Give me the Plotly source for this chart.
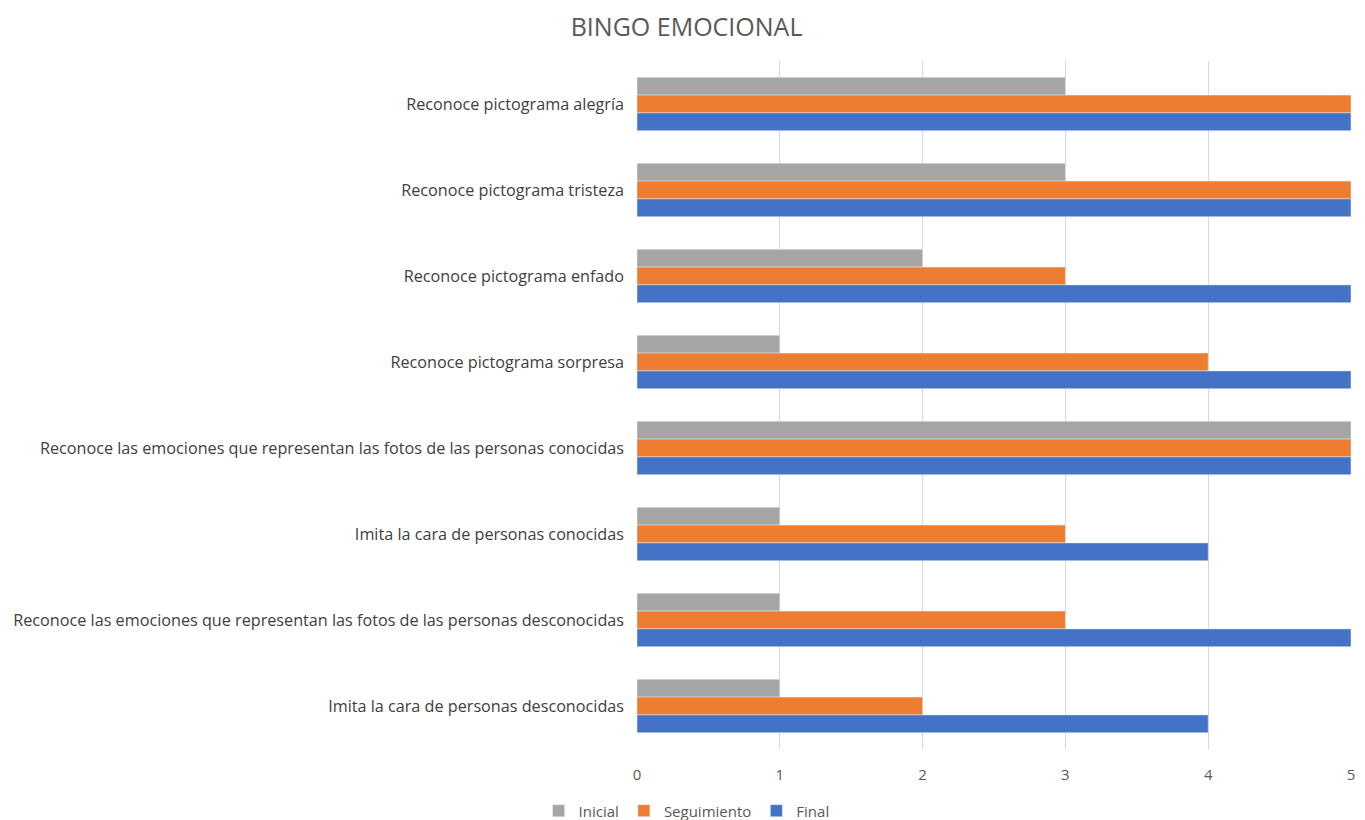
import plotly.graph_objects as go

categories = [
    "Reconoce pictograma alegría",
    "Reconoce pictograma tristeza",
    "Reconoce pictograma enfado",
    "Reconoce pictograma sorpresa",
    "Reconoce las emociones que representan las fotos de las personas conocidas",
    "Imita la cara de personas conocidas",
    "Reconoce las emociones que representan las fotos de las personas desconocidas",
    "Imita la cara de personas desconocidas",
]
inicial = [3, 3, 2, 1, 5, 1, 1, 1]
seguimiento = [5, 5, 3, 4, 5, 3, 3, 2]
final = [5, 5, 5, 5, 5, 4, 5, 4]

fig = go.Figure()
fig.add_trace(go.Bar(y=categories, x=inicial, name="Inicial", orientation="h", marker_color="#A5A5A5"))
fig.add_trace(go.Bar(y=categories, x=seguimiento, name="Seguimiento", orientation="h", marker_color="#ED7D31"))
fig.add_trace(go.Bar(y=categories, x=final, name="Final", orientation="h", marker_color="#4472C4"))

font = "Open Sans, Lato, sans-serif"
fig.update_layout(
    width=1365, height=820,
    barmode="group", bargap=0.38, bargroupgap=0,
    plot_bgcolor="white", paper_bgcolor="white",
    margin=dict(l=637, r=14, t=61, b=71, autoexpand=False),
    title=dict(text="BINGO EMOCIONAL", x=0.503, xanchor="center", y=0.967, yanchor="middle",
               font=dict(family=font, size=25, color="#595959")),
    font=dict(family=font, size=12, color="#595959"),
    xaxis=dict(range=[0, 5], dtick=1, showgrid=True, gridcolor="#D9D9D9", zeroline=False,
               ticks="", ticklabelstandoff=15, tickfont=dict(size=15, color="#595959"), fixedrange=True),
    yaxis=dict(autorange="reversed", showgrid=False, ticks="", ticklabelstandoff=12,
               tickfont=dict(size=16.2, color="#404040")),
    legend=dict(orientation="h", xref="container", yref="paper", x=0.503, xanchor="center",
                y=-0.09, yanchor="middle", font=dict(size=15, color="#595959"),
                itemwidth=30, tracegroupgap=0),
    showlegend=True,
)

fig.write_html("out.html", config={"displayModeBar": False},
               post_script="document.body.style.margin='0';")
